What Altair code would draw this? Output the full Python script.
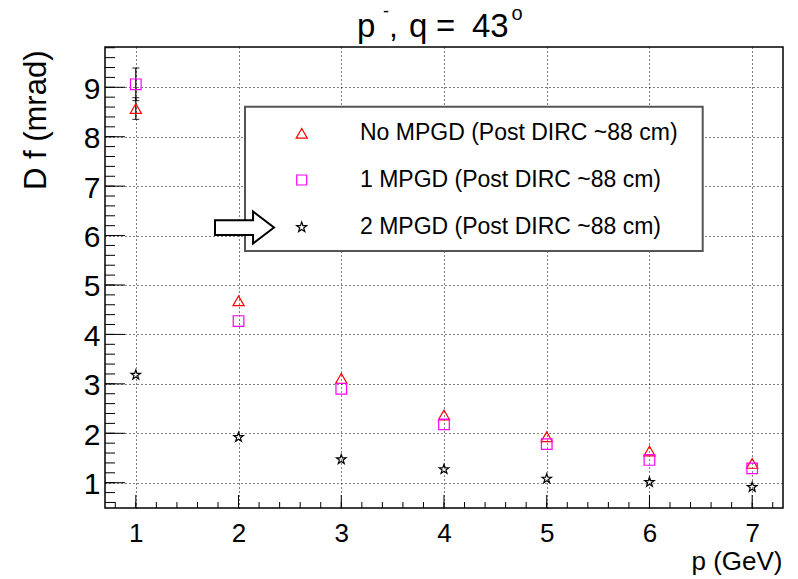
import altair as alt
import pandas as pd
import numpy as np

# ---- data ----
p_values = [1, 2, 3, 4, 5, 6, 7]
no_mpgd = [8.57, 4.68, 3.11, 2.37, 1.93, 1.64, 1.39]
one_mpgd = [9.06, 4.27, 2.90, 2.18, 1.78, 1.46, 1.29]
two_mpgd = [3.18, 1.92, 1.47, 1.27, 1.08, 1.01, 0.91]
no_mpgd_err = [0.22, 0, 0, 0, 0, 0, 0]
one_mpgd_err = [0.33, 0, 0, 0, 0, 0, 0]
two_mpgd_err = [0, 0, 0, 0, 0, 0, 0]
series_names = ["No MPGD (Post DIRC ~88 cm)", "1 MPGD (Post DIRC ~88 cm)", "2 MPGD (Post DIRC ~88 cm)"]
x_ticks = [1, 2, 3, 4, 5, 6, 7]
y_ticks = [1, 2, 3, 4, 5, 6, 7, 8, 9]
x_minor = [round(v, 1) for v in np.arange(0.8, 7.21, 0.2)]
y_minor = [round(v, 1) for v in np.arange(0.6, 9.81, 0.2)]

FONT = "Liberation Sans"
STAR = ("M0,-1 L0.235,-0.324 L0.951,-0.309 L0.380,0.124 L0.588,0.809 L0,0.4 "
        "L-0.588,0.809 L-0.380,0.124 L-0.951,-0.309 L-0.235,-0.324 Z")
ARROW = "M-1,-0.25 L0.29,-0.25 L0.29,-0.54 L1,0 L0.29,0.54 L0.29,0.25 L-1,0.25 Z"
colors = ["#ff0000", "#ff00ff", "#000000"]
shapes = ["triangle-up", "square", STAR]
sizes = [125, 100, 110]

W, H = 678, 461

rows = []
for name, vals, errs in zip(series_names, [no_mpgd, one_mpgd, two_mpgd],
                            [no_mpgd_err, one_mpgd_err, two_mpgd_err]):
    for p, v, e in zip(p_values, vals, errs):
        rows.append({"p": p, "v": v, "lo": v - e, "hi": v + e, "err": e, "series": name})
df = pd.DataFrame(rows)
df_err = df[df["err"] > 0]

xscale = alt.Scale(domain=[0.7, 7.3], nice=False, zero=False)
yscale = alt.Scale(domain=[0.488, 9.815], nice=False, zero=False)
xaxis = alt.Axis(values=x_ticks, format="d", grid=True, gridColor="black", gridDash=[1, 3],
                 gridWidth=1, gridOpacity=1, domain=False, ticks=False, tickSize=0,
                 labelFont=FONT, labelFontSize=26, labelColor="black", labelPadding=12,
                 labelBaseline="top",
                 title="p (GeV)", titleFont=FONT, titleFontSize=26, titleFontWeight="normal",
                 titleColor="black", titleAnchor="end", titleAlign="right",
                 titleBaseline="alphabetic", titleX=677, titleY=61)
yaxis = alt.Axis(values=y_ticks, format="d", grid=True, gridColor="black", gridDash=[1, 3],
                 gridWidth=1, gridOpacity=1, domain=False, ticks=False, tickSize=0,
                 labelFont=FONT, labelFontSize=30, labelColor="black", labelPadding=5,
                 labelOffset=2,
                 title="D f (mrad)", titleFont=FONT, titleFontSize=31, titleFontWeight="normal",
                 titleColor="black", titleAngle=270, titleAlign="right",
                 titleBaseline="alphabetic", titleX=-60, titleY=3)


def X(field):
    return alt.X(field, type="quantitative", scale=xscale, axis=xaxis)


def Y(field):
    return alt.Y(field, type="quantitative", scale=yscale, axis=yaxis)


one = pd.DataFrame({"a": [0]})

# inward tick marks
ymaj = alt.Chart(pd.DataFrame({"t": y_ticks})).mark_rule(color="black", strokeWidth=1).encode(
    y=Y("t"), x=alt.value(0), x2=alt.value(20))
ymin = alt.Chart(pd.DataFrame({"t": y_minor})).mark_rule(color="black", strokeWidth=1).encode(
    y=Y("t"), x=alt.value(0), x2=alt.value(10))
xmaj = alt.Chart(pd.DataFrame({"t": x_ticks})).mark_rule(color="black", strokeWidth=1).encode(
    x=X("t"), y=alt.value(H), y2=alt.value(H - 13))
xmin = alt.Chart(pd.DataFrame({"t": x_minor})).mark_rule(color="black", strokeWidth=1).encode(
    x=X("t"), y=alt.value(H), y2=alt.value(H - 6))

# legend box
box = alt.Chart(one).mark_rect(fill="white", stroke="#555555", strokeWidth=2).encode(
    x=alt.value(140), x2=alt.value(597.7), y=alt.value(59.7), y2=alt.value(204))

# error bars
ebar = alt.Chart(df_err).mark_rule(color="black", strokeWidth=1.2).encode(
    x=X("p"), y=Y("lo"), y2="hi")
cap_lo = alt.Chart(df_err).mark_tick(color="black", orient="horizontal", size=7,
                                     thickness=1.2).encode(x=X("p"), y=Y("lo"))
cap_hi = alt.Chart(df_err).mark_tick(color="black", orient="horizontal", size=7,
                                     thickness=1.2).encode(x=X("p"), y=Y("hi"))

# data points
pts = alt.Chart(df).mark_point(filled=False, strokeWidth=1.2, opacity=1).encode(
    x=X("p"), y=Y("v"),
    color=alt.Color("series:N", scale=alt.Scale(domain=series_names, range=colors), legend=None),
    shape=alt.Shape("series:N", scale=alt.Scale(domain=series_names, range=shapes), legend=None),
    size=alt.Size("series:N", scale=alt.Scale(domain=series_names, range=sizes), legend=None),
)

layers = [ymin, ymaj, xmin, xmaj, box, ebar, cap_lo, cap_hi, pts]

# legend entries
row_y = [86.3, 133.0, 180.3]
for i, name in enumerate(series_names):
    layers.append(alt.Chart(one).mark_point(shape=shapes[i], filled=False, color=colors[i],
                                            strokeWidth=1.2, size=sizes[i], opacity=1).encode(
        x=alt.value(196.7), y=alt.value(row_y[i])))
    layers.append(alt.Chart(one).mark_text(text=name, font=FONT, fontSize=23, align="left",
                                           baseline="middle", color="black").encode(
        x=alt.value(255), y=alt.value(row_y[i])))

# arrow pointing at last legend entry
layers.append(alt.Chart(one).mark_point(shape=ARROW, filled=True, fill="white", stroke="black",
                                        strokeWidth=2, size=3481, opacity=1).encode(
    x=alt.value(139.5), y=alt.value(180.5)))

# title pieces
title_parts = [("p", 252, -10.3, 33), ("-", 278, -30, 18), (",", 284, -10.3, 32),
               ("q", 304, -10.3, 33), ("=", 331, -10.3, 33), ("43", 367, -10.3, 33),
               ("o", 406.5, -27, 20)]
for txt, tx, ty, fs in title_parts:
    layers.append(alt.Chart(one).mark_text(text=txt, font=FONT, fontSize=fs, align="left",
                                           baseline="alphabetic", color="black").encode(
        x=alt.value(tx), y=alt.value(ty)))

chart = alt.layer(*layers).properties(
    width=W, height=H,
    autosize=alt.AutoSizeParams(type="none"),
    padding={"left": 105, "top": 47, "right": 15, "bottom": 71},
    background="white",
).configure_view(stroke="black", strokeWidth=1.5)

chart.save("out.html", embed_options={"renderer": "svg", "actions": False})
